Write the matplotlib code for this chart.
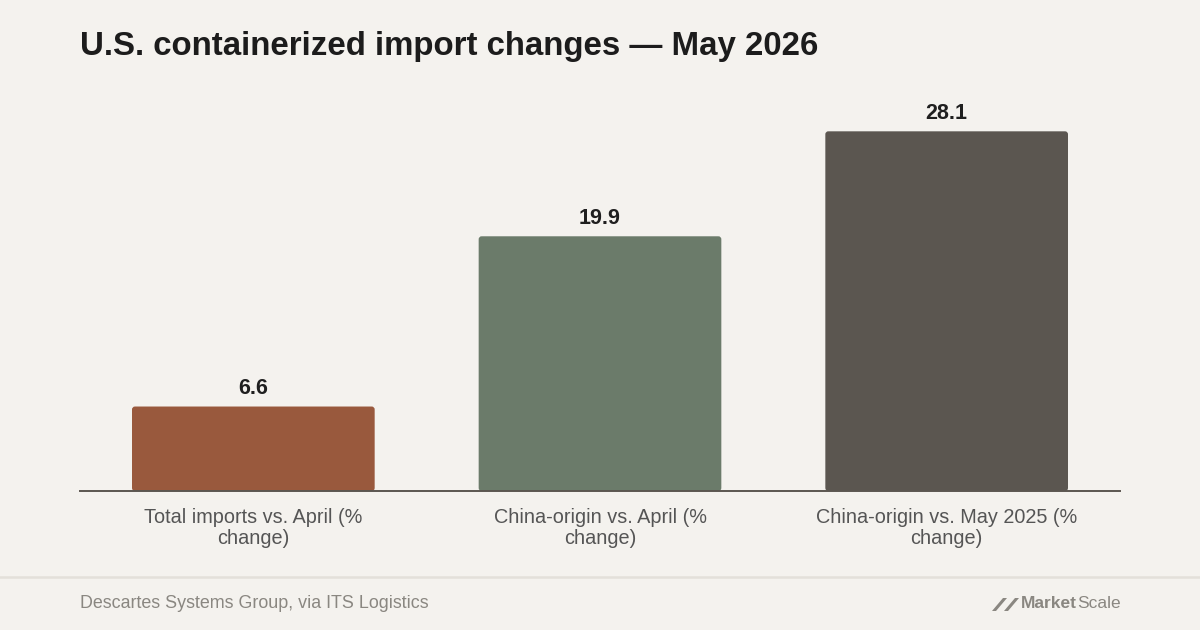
import matplotlib
matplotlib.use("Agg")
import matplotlib.pyplot as plt
from matplotlib.patches import FancyBboxPatch, Polygon

plt.rcParams['font.family'] = ['Liberation Sans', 'DejaVu Sans']

# data
categories = ["Total imports vs. April (%\nchange)",
              "China-origin vs. April (%\nchange)",
              "China-origin vs. May 2025 (%\nchange)"]
values = [6.6, 19.9, 28.1]
bar_colors = ["#99593d", "#6b7b6a", "#5b5650"]

BG = "#f4f2ee"
W, H = 1200, 630

fig = plt.figure(figsize=(12, 6.3), dpi=100, facecolor=BG)
# axes: x 80..1120 px, baseline at y=491 px, top at y=100 px
ax = fig.add_axes([80 / W, (H - 491) / H, 1040 / W, 391 / H], facecolor=BG)

ymax = 391 / 12.8
ax.set_xlim(-0.5, len(values) - 0.5)
ax.set_ylim(0, ymax)

bars = ax.bar(range(len(values)), values, width=0.70, color=bar_colors)

# swap plain bars for slightly rounded ones
px_x = 1040 / 3.0
px_y = 391 / ymax
for b in bars:
    b.set_visible(False)
    rb = FancyBboxPatch((b.get_x(), 0), b.get_width(), b.get_height(),
                        boxstyle="round,pad=0,rounding_size=%f" % (3 / px_x),
                        mutation_aspect=px_x / px_y,
                        facecolor=b.get_facecolor(), edgecolor="none")
    ax.add_patch(rb)
    ax.annotate(f"{b.get_height():.1f}",
                (b.get_x() + b.get_width() / 2, b.get_height()),
                xytext=(0, 5.5), textcoords="offset points",
                ha="center", va="bottom", fontsize=15.5, fontweight="bold",
                color="#1f1f1f")

for s in ["top", "right", "left"]:
    ax.spines[s].set_visible(False)
ax.spines["bottom"].set_color("#5b5650")
ax.spines["bottom"].set_linewidth(1.4)
ax.set_yticks([])
ax.set_xticks(range(len(values)))
ax.set_xticklabels(categories, fontsize=14.3, color="#555555", linespacing=1.14)
ax.tick_params(axis="x", length=0, pad=12)

fig.text(80 / W, 1 - 47 / H, "U.S. containerized import changes \u2014 May 2026",
         fontsize=23.8, fontweight="bold", color="#1c1c1c", va="center", ha="left")

# footer
fig.add_artist(plt.Line2D([0, 1], [1 - 577 / H, 1 - 577 / H], color="#e3e0da",
                          linewidth=1.8, transform=fig.transFigure))
fig.text(80 / W, 1 - 603 / H, "Descartes Systems Group, via ITS Logistics",
         fontsize=12.9, color="#8a8781", va="center", ha="left")

# MarketScale logo
fig.text(1077 / W, 1 - 604 / H, "Market", fontsize=12.5, fontweight="bold",
         color="#8a8781", va="center", ha="right")
fig.text(1077.5 / W, 1 - 604 / H, "Scale", fontsize=12.5,
         color="#8a8781", va="center", ha="left")
for x0 in (992, 1004):
    pts = [(x0, 611), (x0 + 4, 611), (x0 + 15, 598), (x0 + 11, 598)]
    fig.add_artist(Polygon([(x / W, 1 - y / H) for x, y in pts], closed=True,
                           transform=fig.transFigure, facecolor="#8a8781",
                           edgecolor="none"))

fig.savefig("out.png", dpi=100, facecolor=BG)
